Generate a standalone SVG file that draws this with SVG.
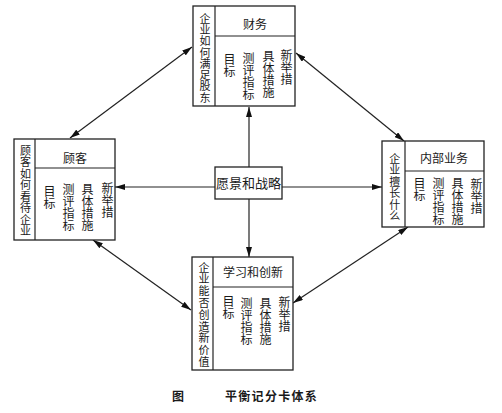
<svg xmlns="http://www.w3.org/2000/svg" width="502" height="413" viewBox="0 0 502 413">
<style>
.box{fill:#fff;stroke:#222;stroke-width:1.3}
.ln{stroke:#222;stroke-width:1.2;fill:none}
text{font-family:"Liberation Serif","Noto Sans CJK SC",serif;fill:#1a1a1a}
.v{font-size:11px;writing-mode:vertical-rl}
.b{font-size:12px;writing-mode:vertical-rl}
.h{font-size:12px;text-anchor:middle}
.c{font-size:13px;text-anchor:middle}
.cap{font-size:12px;font-weight:bold}
</style>
<defs>
<marker id="ah" markerUnits="userSpaceOnUse" markerWidth="10" markerHeight="6" refX="10" refY="3" orient="auto-start-reverse">
<path d="M0,0 L10,3 L0,6 z" fill="#111"/>
</marker>
</defs>
<rect width="502" height="413" fill="#fff"/>
<g id="connectors">
<line class="ln" x1="249" y1="167" x2="249" y2="107" marker-end="url(#ah)"/>
<line class="ln" x1="249" y1="199" x2="249" y2="257" marker-end="url(#ah)"/>
<line class="ln" x1="215" y1="187" x2="115" y2="187" marker-end="url(#ah)"/>
<line class="ln" x1="282" y1="187" x2="382" y2="187" marker-end="url(#ah)"/>
<line class="ln" x1="192" y1="47" x2="70" y2="138" marker-start="url(#ah)" marker-end="url(#ah)"/>
<line class="ln" x1="296" y1="53" x2="404" y2="141" marker-start="url(#ah)" marker-end="url(#ah)"/>
<line class="ln" x1="93" y1="240" x2="191" y2="310" marker-start="url(#ah)" marker-end="url(#ah)"/>
<line class="ln" x1="408" y1="227" x2="293" y2="303" marker-start="url(#ah)" marker-end="url(#ah)"/>
</g>
<g id="finance">
<rect class="box" x="193" y="6" width="102" height="100"/>
<line class="ln" x1="215" y1="6" x2="215" y2="106"/>
<line class="ln" x1="215" y1="36" x2="295" y2="36"/>
<text class="v" x="204" y="13" letter-spacing="0.3">企业如何满足股东</text>
<text class="h" x="255" y="29">财务</text>
<text class="b" x="228" y="53">目标</text>
<text class="b" x="247" y="52">测评指标</text>
<text class="b" x="267" y="50">具体措施</text>
<text class="b" x="285" y="49">新举措</text>
</g>
<g id="customer">
<rect class="box" x="14" y="139" width="101" height="101"/>
<line class="ln" x1="35" y1="139" x2="35" y2="240"/>
<line class="ln" x1="35" y1="168" x2="115" y2="168"/>
<text class="v" x="24.5" y="145" letter-spacing="0.5">顾客如何看待企业</text>
<text class="h" x="75" y="163">顾客</text>
<text class="b" x="48" y="185">目标</text>
<text class="b" x="67" y="183">测评指标</text>
<text class="b" x="86" y="183">具体措施</text>
<text class="b" x="106" y="182">新举措</text>
</g>
<g id="internal">
<rect class="box" x="382" y="141" width="102" height="86"/>
<line class="ln" x1="405" y1="141" x2="405" y2="227"/>
<line class="ln" x1="405" y1="171" x2="484" y2="171"/>
<text class="v" x="393.7" y="153" letter-spacing="0.5">企业擅长什么</text>
<text class="h" x="444" y="163">内部业务</text>
<text class="b" x="418" y="177">目标</text>
<text class="b" x="437" y="177">测评指标</text>
<text class="b" x="456" y="177">具体措施</text>
<text class="b" x="475" y="178">新举措</text>
</g>
<g id="learning">
<rect class="box" x="192" y="257" width="101" height="113"/>
<line class="ln" x1="213" y1="257" x2="213" y2="370"/>
<line class="ln" x1="213" y1="287" x2="293" y2="287"/>
<text class="v" x="203" y="262" letter-spacing="0.8">企业能否创造新价值</text>
<text class="h" x="253" y="277">学习和创新</text>
<text class="b" x="227" y="295">目标</text>
<text class="b" x="245" y="297">测评指标</text>
<text class="b" x="264" y="297">具体措施</text>
<text class="b" x="283" y="296">新举措</text>
</g>
<g id="vision">
<rect class="box" x="215" y="167" width="67" height="32"/>
<text class="c" x="248.5" y="188">愿景和战略</text>
</g>
<g id="caption">
<text class="cap" x="172" y="401">图</text>
<text class="cap" x="225" y="401" letter-spacing="1.3">平衡记分卡体系</text>
</g>
</svg>
